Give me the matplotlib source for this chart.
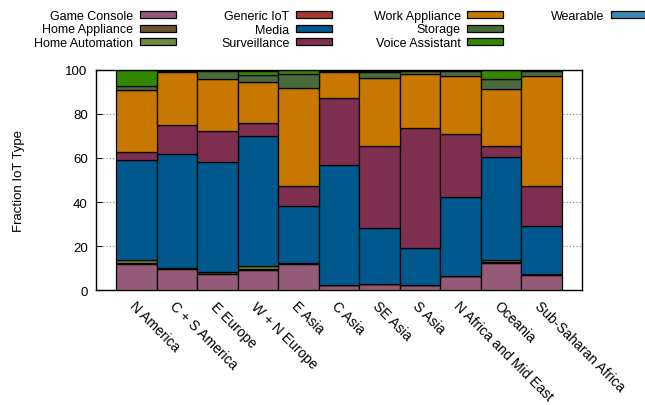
import matplotlib
matplotlib.use("Agg")
import matplotlib.pyplot as plt
import numpy as np

plt.rcParams['font.family'] = ['Liberation Sans', 'DejaVu Sans']

regions = ["N America", "C + S America", "E Europe", "W + N Europe", "E Asia",
           "C Asia", "SE Asia", "S Asia", "N Africa and Mid East", "Oceania",
           "Sub-Saharan Africa"]

types = ["Game Console", "Home Appliance", "Home Automation", "Generic IoT",
         "Media", "Surveillance", "Work Appliance", "Storage",
         "Voice Assistant", "Wearable"]

game_console    = [11.8, 9.65, 7.4, 9.2, 11.9, 2.3, 2.7, 2.4, 6.3, 12.4, 6.9]
home_appliance  = [0.5, 0.5, 0.7, 0.4, 0.4, 0.0, 0.0, 0.0, 0.0, 0.3, 0.4]
home_automation = [1.4, 0.0, 0.0, 1.3, 0.0, 0.0, 0.0, 0.0, 0.0, 1.0, 0.0]
generic_iot     = [0.0, 0.0, 0.0, 0.0, 0.0, 0.0, 0.0, 0.0, 0.0, 0.0, 0.0]
media           = [45.2, 51.45, 50.1, 59.0, 25.8, 54.4, 25.4, 16.6, 36.0, 46.6, 21.7]
surveillance    = [3.6, 13.5, 14.0, 5.8, 9.0, 30.3, 37.2, 54.6, 28.6, 5.0, 18.1]
work_appliance  = [28.1, 23.7, 23.6, 18.7, 44.6, 11.8, 31.1, 24.3, 26.1, 26.1, 49.9]
storage         = [1.9, 0.6, 3.5, 3.1, 6.3, 0.6, 2.7, 1.5, 2.5, 4.4, 2.5]
voice_assistant = [7.5, 0.3, 0.4, 2.0, 1.7, 0.3, 0.5, 0.3, 0.2, 4.2, 0.2]
wearable        = [0.0, 0.3, 0.3, 0.5, 0.3, 0.3, 0.4, 0.3, 0.3, 0.0, 0.3]

series = [game_console, home_appliance, home_automation, generic_iot, media,
          surveillance, work_appliance, storage, voice_assistant, wearable]

colors = ["#955a78", "#6b5530", "#6e8a3c", "#a8382f", "#00588c",
          "#7e2e4f", "#c87800", "#496a3a", "#338800", "#3b8cb5"]

fig = plt.figure(figsize=(6.45, 4.06), dpi=100)
ax = fig.add_axes([96/645, 1-291.3/406, (582-96)/645, (291.3-70.7)/406])

x = np.arange(len(regions))
bottom = np.zeros(len(regions))
handles = []
for name, vals, c in zip(types, series, colors):
    v = np.array(vals, dtype=float)
    b = ax.bar(x, v, width=1.0, bottom=bottom, color=c, edgecolor="black",
               linewidth=0.9, label=name, zorder=3)
    handles.append(b)
    bottom += v

ax.set_xlim(-1, len(regions))
ax.set_ylim(0, 100)
ax.set_yticks([0, 20, 40, 60, 80, 100])
ax.yaxis.grid(True, linestyle=(0, (1, 2)), color="#777777", linewidth=0.8, zorder=0)
ax.tick_params(axis='y', direction='in', length=4, labelsize=9.5, pad=6)
ax.tick_params(axis='x', length=0, labelsize=10.0, pad=6)
ax.set_xticks(x)
ax.set_xticklabels(regions, rotation=-45, ha='left', va='top', rotation_mode='anchor')
for sp in ax.spines.values():
    sp.set_linewidth(1.0)
ax.set_ylabel("Fraction IoT Type", fontsize=9.5, labelpad=29)

# legend columns (column-major, labels before handles)
col_groups = [[0, 1, 2], [3, 4, 5], [6, 7, 8], [9]]
col_right = [176, 332, 503, 647]
for grp, xr in zip(col_groups, col_right):
    leg = fig.legend([handles[i] for i in grp], [types[i] for i in grp],
                     loc='upper right', bbox_to_anchor=(xr/645, 1-11/406),
                     frameon=False, markerfirst=False, fontsize=9,
                     handlelength=2.9, handleheight=0.5, handletextpad=0.5,
                     labelspacing=0.12, borderpad=0, borderaxespad=0)

fig.savefig("out.png", dpi=100)
